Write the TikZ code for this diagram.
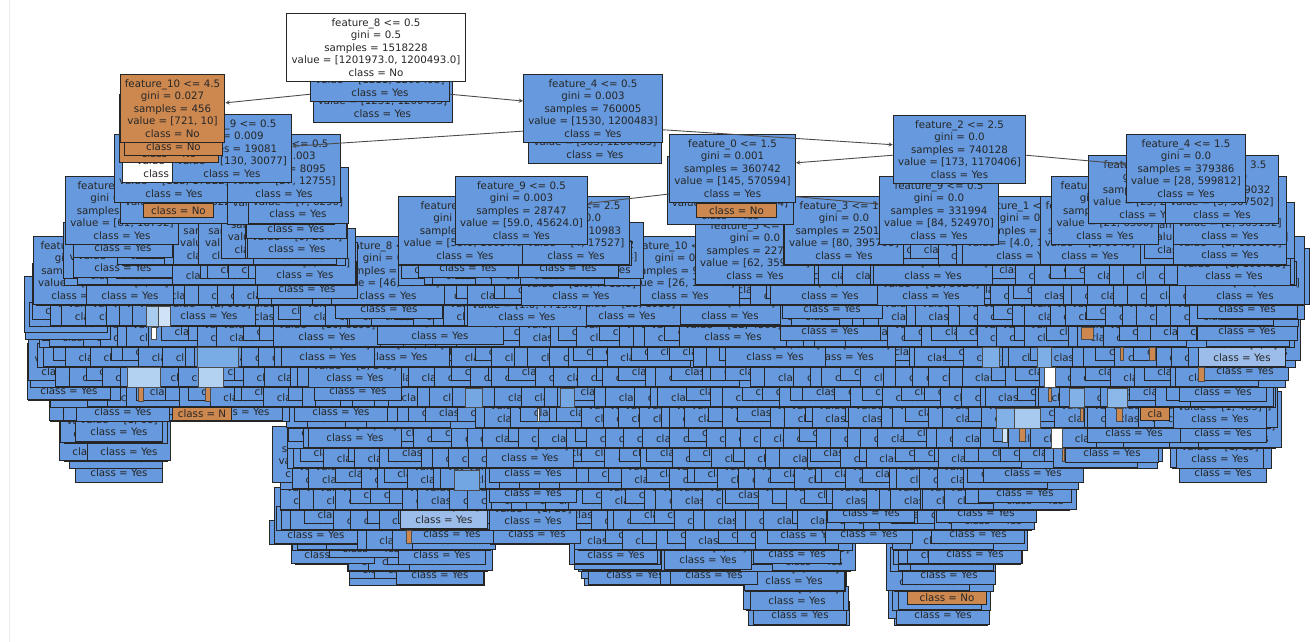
\documentclass[tikz,border=0pt]{standalone}
\usepackage{fontspec}
\setmainfont{DejaVu Sans}
\definecolor{treeblue}{HTML}{6699DD}
\definecolor{treeorange}{HTML}{CD8850}
\newcommand{\splittext}[5]{#1\\gini = #2\\samples = #3\\value = #4\\class = #5}
\newcommand{\leaftext}[1]{gini = 0.0\\samples = 2\\value = [#1]\\class = Yes}
\tikzset{
  treebox/.style={draw=black!85, line width=0.9pt, fill=treeblue, align=center, text=black!85,
    font=\fontsize{10.3}{12.45}\selectfont, inner xsep=4.8pt, inner ysep=5.4pt, anchor=south},
  orangebox/.style={treebox, fill=treeorange},
  whitebox/.style={treebox, fill=white},
  slimbox/.style={treebox, fill=treeorange, inner sep=0pt, minimum height=14pt},
  patchbox/.style={draw=black!70, line width=0.6pt},
  treearrow/.style={-stealth, draw=black!70, line width=0.9pt}
}
% one row of tightly stacked leaves
\newcommand{\fillrows}[1]{
  \foreach \yb/\xa/\xb in {#1}{
    \pgfmathtruncatemacro{\num}{(\xb-\xa-84)/18}
    \pgfmathsetmacro{\gap}{(\xb-\xa-84)/max(\num,1)}
    \draw[treebox, fill=treeblue] (\xa,\yb-24) rectangle (\xb,\yb);
    \foreach \i in {0,...,\num}{
      \pgfmathrandominteger{\jit}{-8}{8}
      \pgfmathrandominteger{\drop}{0}{2}
      \pgfmathsetmacro{\xc}{\xa+42+\i*\gap+\jit}
      \pgfmathsetmacro{\yc}{\yb-ifthenelse(\drop==0,6,0)}
      \node[treebox, minimum width=84pt] (fill\yb-\xa-\i) at (\xc,\yc) {\leaftext{1, 3}};
    }
  }
}
% leaves whose last line stays readable
\newcommand{\keeps}[1]{
  \foreach \cx/\cy/\val in {#1}{
    \pgfmathsetmacro{\yc}{\cy+9.5}
    \node[treebox] (leaf\cx-\cy) at (\cx,\yc) {\leaftext{\val}};
  }
}
\begin{document}
\begin{tikzpicture}[x=1bp, y=-1bp]
  \useasboundingbox (0,0) rectangle (1316,642);
  \draw[black!7, line width=1pt] (9,0) -- (9,642);
  \pgfmathsetseed{42}
  % lower rows first
  \fillrows{625/748/849, 625/894/987}
  \keeps{943/615/{2, 815}, 800/615/{1, 412}}
  \fillrows{610/746/848, 610/892/990}
  \keeps{797/601/{1, 900}}
  \node[slimbox, minimum width=80pt] (orangeb) at (947,605) {class = No};
  \fillrows{591/745/845, 591/894/993}
  \keeps{794/581/{1, 2020}, 949/575/{2, 713}}
  \fillrows{585/349/484, 585/584/744}
  \keeps{635/575/{3, 118}, 704/575/{1, 62}, 714/575/{2, 94}, 440/575/{1, 86}}
  \fillrows{571/347/487, 571/578/744, 571/740/850, 571/890/995}
  \keeps{618/560/{1, 25}, 708/560/{1, 37}}
  \fillrows{564/295/347, 564/569/660, 564/893/1020}
  \keeps{975/554/{4, 926}, 797/554/{1, 63}, 442/555/{1, 92}}
  \fillrows{550/292/490, 550/578/852, 550/893/1027, 544/269/356, 544/490/569}
  \keeps{978/534/{3, 471}, 869/534/{1, 38}, 452/534/{1, 17}, 537/534/{1, 41}}
  \fillrows{530/276/1031}
  \keeps{986/513/{5, 1203}, 871/513/{1, 58}, 533/521/{1, 29}}
  \node[treebox, fill=white!35!treeblue, minimum width=88pt] (palethree) at (444,529) {\leaftext{1, 3}};
  \fillrows{510/280/1069}
  \keeps{1025/493/{2, 316}, 533/493/{1, 74}}
  \fillrows{489/280/1078}
  \keeps{1033/473/{6, 2205}, 1223/473/{1, 52}, 119/473/{1, 94}, 533/473/{1, 63}}
  \fillrows{468/287/1157, 468/1172/1271}
  \keeps{1220/459/{1, 15}, 116/459/{4, 160}, 530/458/{1, 26}, 1112/453/{2, 317}}
  \fillrows{461/64/167, 448/287/1275, 443/64/167}
  \keeps{355/438/{11, 86}, 1223/433/{1, 74}, 1134/433/{3, 482}, 119/432/{1, 68}}
  \fillrows{428/287/1270}
  \keeps{1220/419/{1, 465}}
  \fillrows{421/50/289}
  \keeps{123/412/{2, 305}, 341/412/{4, 127}}
  \node[slimbox, minimum width=60pt] (orangea) at (202,421) {class = N};
  \node[slimbox, minimum width=29pt] (orangec) at (1155,421) {cla};
  \fillrows{407/50/1275, 400/28/120}
  \keeps{1223/392/{1, 90}, 358/391/{2, 61}}
  \fillrows{387/30/1285}
  \keeps{355/378/{3, 543}, 1245/371/{1, 27}}
  \fillrows{367/37/1295}
  \keeps{845/357/{15, 906}, 775/357/{21, 314}, 399/357/{27, 631}, 328/357/{8, 204}}
  \node[treebox, fill=white!35!treeblue, minimum width=88pt] (palefive) at (1242,367) {\leaftext{1, 5}};
  \fillrows{347/39/1294, 339/25/110}
  \keeps{733/337/{12, 4306}, 327/337/{10, 6190}, 1247/331/{1, 3096}, 830/331/{9, 1520}}
  \node[treebox] (splitleven) at (440,345) {\splittext{feature\_1 <= 11.5}{0.009}{4441}{[51.0, 7032.0]}{Yes}};
  \fillrows{326/29/1298}
  \keeps{209/316/{2, 906}, 627/316/{25, 1930}, 527/317/{1.0, 7713.0}, 1247/309/{1, 1872}, 832/309/{6, 1108}, 389/309/{27, 6304}}
  \node[treebox] (splitnineo) at (730,325) {\splittext{feature\_3 <= 0.5}{0.0}{2905}{[3, 4602]}{Yes}};
  \fillrows{305/36/1304}
  % pale and white slivers
  \foreach \xa/\ya/\xb/\yb/\tint in {146/306/158/326/A9CBEE, 158/306/170/326/D0E2F5, 151/327/156/339/FFFFFF,
      127/367/160/387/B3D1F0, 198/367/223/387/B3D1F0, 197/347/238/367/79ACE5, 465/388/482/407/75A8E3,
      560/388/574/407/75A8E3, 537/408/539/421/FFFFFF, 454/470/479/490/72A6E2,
      982/347/999/367/7EAEE6, 1037/347/1051/367/7EAEE6, 1044/367/1055/387/FFFFFF, 1107/388/1127/407/8CB8E9,
      1069/388/1084/407/81B1E7, 1014/408/1040/428/A8CAEF, 996/408/1014/428/81B1E7, 1051/428/1062/448/FFFFFF,
      1002/428/1007/442/D0E2F5, 138/387/143/401/CD8850, 205/387/210/401/CD8850, 1081/327/1093/339/CD8850,
      1120/347/1123/360/CD8850, 1149/347/1155/360/CD8850, 1198/367/1204/381/CD8850, 1048/388/1051/401/CD8850,
      1116/408/1122/421/CD8850, 1080/408/1083/421/CD8850, 1019/428/1025/441/CD8850, 1062/448/1064/461/CD8850,
      406/530/411/543/CD8850}{
    \definecolor{sliver}{HTML}{\tint}
    \filldraw[patchbox, fill=sliver] (\xa,\ya) rectangle (\xb,\yb);
  }
  % middle rows
  \node[treebox] (splitedge) at (80,305) {\splittext{feature\_1 <= 1}{0.0}{620}{[5, 970]}{Yes}};
  \node[treebox] (splitedgeb) at (130,305) {\splittext{feature\_6}{0.0}{410}{[3, 64]}{Yes}};
  \node[treebox] (spliteight) at (388,305) {\splittext{feature\_8 <= 0.5}{0.0}{12121}{[46, 19109]}{Yes}};
  \node[treebox] (splittenb) at (680,305) {\splittext{feature\_10 <= 4.5}{0.0}{91000}{[26, 144073]}{Yes}};
  \node[treebox] (splitthirteen) at (830,305) {\splittext{feature\_5 <= 0.5}{0.0}{135990}{[36, 215100]}{Yes}};
  \node[treebox] (splitfar) at (1245,305) {\splittext{feature\_7 <= 0.5}{0.0}{5002}{[1.0, 7921.0]}{Yes}};
  \keeps{581/296/{1.0, 7713.0}, 931/296/{10, 3024}, 307/289/{3, 1074}}
  \fillrows{285/64/356, 285/398/640, 285/696/1296}
  \keeps{1234/276/{1, 100795}, 305/275/{9, 2174}}
  \node[treebox] (splitfive) at (755,285) {\splittext{feature\_5 <= 0.5}{0.0}{227000}{[62, 359201]}{Yes}};
  \node[treebox] (splitlow) at (933,285) {\splittext{feature\_1 <= 0.5}{0.0}{231000}{[18, 365100]}{Yes}};
  \keeps{568/268/{7, 3180}, 468/268/{4, 2906}, 123/268/{8, 1340}}
  \fillrows{265/122/345, 265/398/631, 265/784/1290}
  \node[treebox] (splitmida) at (1025,265) {\splittext{feature\_1 <= 0.5}{0.0}{8800}{[4.0, 13900.0]}{Yes}};
  \node[treebox] (splitmidb) at (1090,265) {\splittext{feature\_6 <= 0.5}{0.0}{6100}{[2, 9640]}{Yes}};
  \node[treebox] (splitthree) at (844,265) {\splittext{feature\_3 <= 1.5}{0.0}{250100}{[80, 395795]}{Yes}};
  \node[treebox] (splitsmall) at (465,265) {\splittext{feature\_6 <= 0.5}{0.003}{10190}{[55.0, 16097.0]}{Yes}};
  \node[treebox] (splittwofive) at (576,265) {\splittext{feature\_3 <= 2.5}{0.0}{10983}{[4, 17527]}{Yes}};
  \keeps{1230/255/{2, 189100}, 123/248/{5, 1460}, 297/249/{9, 2604}}
  % upper rows, deepest first
  \node[treebox] (splitleft) at (122,245) {\splittext{feature\_1 <= 0.5}{0.006}{11800}{[61, 18792]}{Yes}};
  \node[treebox] (splitrighta) at (1105,245) {\splittext{feature\_5 <= 0.5}{0.0}{4020}{[21, 6300]}{Yes}};
  \node[treebox] (splitrightb) at (1230,245) {\splittext{feature\_2 <= 0.5}{0.0}{233800}{[2, 369192]}{Yes}};
  \node[treebox] (splitninemid) at (521.5,245) {\splittext{feature\_9 <= 0.5}{0.003}{28747}{[59.0, 45624.0]}{Yes}};
  \node[treebox] (splitnineright) at (939,245) {\splittext{feature\_9 <= 0.5}{0.0}{331994}{[84, 524970]}{Yes}};
  \keeps{296/229/{3, 2980}}
  \node[treebox] (splitoneup) at (180,224) {\splittext{feature\_3 <= 0.5}{0.009}{10986}{[115, 17322]}{Yes}};
  \node[slimbox, minimum width=71pt] (orangenoa) at (178.5,218) {class = No};
  \node[treebox] (splittwoup) at (281,225) {\splittext{feature\_5 <= 0.5}{0.003}{3900}{[19, 6025]}{Yes}};
  \node[treebox] (leafseven) at (298,223.5) {\leaftext{7, 6290}};
  \node[treebox] (splitzerounder) at (730,225) {\splittext{feature\_1 <= 0.5}{0.001}{340000}{[145, 570594]}{Yes}};
  \node[slimbox, minimum width=81pt] (orangenob) at (736.5,218) {class = No};
  \node[treebox] (splitfarleft) at (1148,224) {\splittext{feature\_1 <= 0.5}{0.0}{15900}{[25, 232310]}{Yes}};
  \node[treebox] (splitthreefive) at (1222,224) {\splittext{feature\_6 <= 3.5}{0.0}{219032}{[3, 367502]}{Yes}};
  \node[treebox] (splitupa) at (174,203) {\splittext{feature\_1 <= 0.5}{0.009}{10986}{[115, 17322]}{Yes}};
  \node[treebox] (spliteightk) at (284,203) {\splittext{feature\_7 <= 0.5}{0.003}{8095}{[37, 12755]}{Yes}};
  \node[treebox] (splitzero) at (732.5,203) {\splittext{feature\_0 <= 1.5}{0.001}{360742}{[145, 570594]}{Yes}};
  \node[treebox] (splitfourb) at (1186,203) {\splittext{feature\_4 <= 1.5}{0.0}{379386}{[28, 599812]}{Yes}};
  \node[treebox] (splittwo) at (959.5,184) {\splittext{feature\_2 <= 2.5}{0.0}{740128}{[173, 1170406]}{Yes}};
  \node[whitebox] (whitesplit) at (172,183) {\splittext{feature\_1 <= 0.5}{0.5}{12}{[9, 9]}{Yes}};
  \node[treebox] (splitninea) at (232,183) {\splittext{feature\_9 <= 0.5}{0.009}{19081}{[130, 30077]}{Yes}};
  \node[treebox] (splitfourunder) at (595,164) {\splittext{feature\_1 <= 0.5}{0.003}{759000}{[303, 1200483]}{Yes}};
  \node[orangebox, minimum width=100pt] (orangeleafa) at (169,163) {\splittext{feature\_1 <= 0.5}{0.0}{440}{[700, 4]}{No}};
  \node[orangebox, minimum width=91pt] (orangeleafb) at (173.5,156) {\splittext{feature\_1 <= 0.5}{0.0}{450}{[712, 6]}{No}};
  \node[orangebox] (splitten) at (172.5,143) {\splittext{feature\_10 <= 4.5}{0.027}{456}{[721, 10]}{No}};
  \node[treebox] (splitfour) at (593,143) {\splittext{feature\_4 <= 0.5}{0.003}{760005}{[1530, 1200483]}{Yes}};
  \node[treebox] (underb) at (382.5,123) {\splittext{feature\_1 <= 0.5}{0.004}{758223}{[1231, 1200493]}{Yes}};
  \node[treebox] (undera) at (380,102) {\splittext{feature\_1 <= 0.5}{0.004}{758000}{[1211, 1200493]}{Yes}};
  \node[whitebox] (rootsplit) at (376,82) {\splittext{feature\_8 <= 0.5}{0.5}{1518228}{[1201973.0, 1200493.0]}{No}};
  \draw[treearrow] (undera.201) -- (splitten.6.7);
  \draw[treearrow] (undera.339.5) -- (splitfour.174);
  \draw[treearrow] (splitfour.198) -- (splitninea.2.3);
  \draw[treearrow] (splitfour.343) -- (splittwo.176.6);
  \draw[treearrow] (splittwo.185) -- (splitzero.5);
  \draw[treearrow] (splittwo.355) -- (splitfourb.176);
  \draw[treearrow] (splitzero.202.6) -- (splitninemid.6.6);
  \draw[treearrow] (splitzero.336.6) -- (splitnineright.174.8);
\end{tikzpicture}
\end{document}
